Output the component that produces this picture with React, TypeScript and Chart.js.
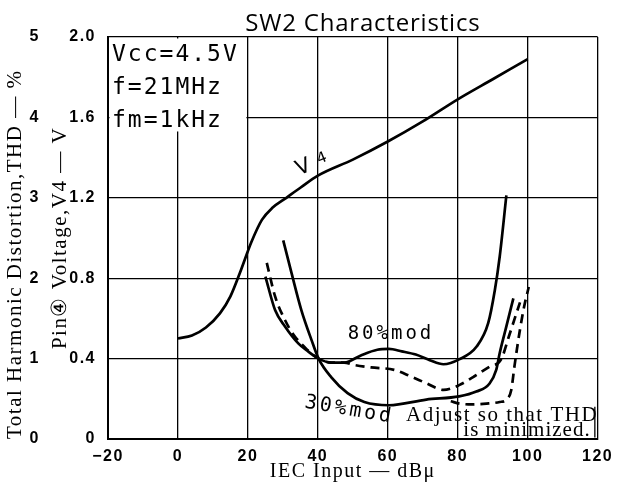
import React, { useEffect, useRef } from "react";
import { Chart, registerables } from "chart.js";

Chart.register(...registerables);

// ---- texts ----
const chartTitle = "SW2 Characteristics";
const xAxisTitle = "IEC Input — dBμ";
const v4AxisTitle = "Pin④ Voltage,V4 — V";
const thdAxisTitle = "Total Harmonic Distortion,THD — %";
const noteLines = ["Vcc=4.5V", "f=21MHz", "fm=1kHz"];
const v4LabelMain = "V";
const v4LabelSub = "4";
const label80 = "80%mod";
const label30 = "30%mod";
const adjustLines = ["Adjust so that THD", "is minimized."];

// ---- axes ----
const xMin = -20;
const xMax = 120;
const xStep = 20;
const v4Min = 0;
const v4Max = 2.0;
const v4Step = 0.4;
const thdMin = 0;
const thdMax = 5;
const thdStep = 1;

// ---- series: Pin4 voltage V4 (V) ----
const v4Input = [0, 4, 8, 12, 15, 18, 21, 24, 27, 31, 35, 40, 50, 60, 70, 80, 90, 100];
const v4Volts = [0.5, 0.515, 0.555, 0.625, 0.71, 0.84, 0.98, 1.09, 1.15, 1.2, 1.25, 1.31, 1.39, 1.48, 1.58, 1.69, 1.79, 1.89];

// ---- series: THD (%) 80% modulation (solid) ----
const mod80Input = [25, 27.8, 30.6, 34.4, 37.2, 40.2, 43.8, 47.6, 52.3, 57, 60.3, 64, 68, 72, 75.9, 80.4, 85.4, 88.7, 90.6, 92, 93.9];
const mod80Thd = [2.02, 1.6, 1.4, 1.19, 1.09, 1.0, 0.95, 0.95, 1.04, 1.11, 1.12, 1.09, 1.05, 0.98, 0.93, 0.99, 1.15, 1.44, 1.85, 2.27, 3.03];

// ---- series: THD (%) 30% modulation (solid) ----
const mod30Input = [30.1, 32.5, 35.3, 38.2, 40.2, 43.8, 48.5, 53.3, 60.3, 71, 80.4, 85.3, 89.1, 91, 92, 93.9, 95.9];
const mod30Thd = [2.47, 2.06, 1.6, 1.23, 1.0, 0.77, 0.57, 0.46, 0.42, 0.49, 0.53, 0.59, 0.69, 0.86, 1.07, 1.4, 1.75];

// ---- series: THD (%) 80% modulation, adjusted (dashed) ----
const mod80AdjInput = [25.4, 27.8, 30.6, 33, 36.5, 40.2, 44, 47.5, 50.4, 55.2, 61.8, 66.5, 71.2, 75.9, 80.4, 84.4, 89.1, 92.4, 94.8, 96.3, 97.8];
const mod80AdjThd = [2.19, 1.77, 1.48, 1.3, 1.13, 1.0, 0.95, 0.95, 0.92, 0.89, 0.86, 0.78, 0.69, 0.61, 0.67, 0.77, 0.9, 0.99, 1.3, 1.5, 1.7];

// ---- series: THD (%) 30% modulation, adjusted (dashed) ----
const mod30AdjInput = [78, 80.6, 84, 88.2, 92, 93.9, 95.3, 96.2, 97.6, 99, 100.3];
const mod30AdjThd = [0.47, 0.44, 0.43, 0.44, 0.46, 0.49, 0.61, 0.9, 1.31, 1.65, 1.89];

const toPoints = (xs: number[], ys: number[]) => xs.map((x, i) => ({ x, y: ys[i] }));

function put(
  ctx: any,
  text: string,
  x: number,
  y: number,
  font: string,
  align: string = "left",
  baseline: string = "alphabetic",
  angle: number = 0,
  spacing: string = "0px"
) {
  ctx.save();
  ctx.translate(x, y);
  if (angle) ctx.rotate(angle);
  ctx.font = font;
  ctx.textAlign = align;
  ctx.textBaseline = baseline;
  ctx.letterSpacing = spacing;
  ctx.fillStyle = "#000";
  ctx.fillText(text, 0, 0);
  ctx.restore();
}

const annotationPlugin = {
  id: "sw2Annotations",
  beforeDraw(chart: any) {
    chart.ctx.letterSpacing = "1.5px";
  },
  beforeDatasetsDraw(chart: any) {
    const { ctx, chartArea, scales } = chart;
    ctx.letterSpacing = "0px";
    const boxRight = scales.x.getPixelForValue(20) - 1.5;
    const boxBottom = scales.y.getPixelForValue(1.53);
    ctx.save();
    ctx.fillStyle = "#fff";
    ctx.fillRect(chartArea.left + 1.5, chartArea.top + 1.5, boxRight - chartArea.left - 1.5, boxBottom - chartArea.top - 1.5);
    ctx.restore();
  },
  afterDatasetsDraw(chart: any) {
    const { ctx, chartArea, scales } = chart;
    const xs = scales.x;
    const yv = scales.y;
    const yt = scales.thd;
    // title
    put(ctx, chartTitle, (chartArea.left + chartArea.right) / 2 + 10, 31, "24px 'Open Sans', sans-serif", "center", "alphabetic", 0, "0.8px");
    // condition notes
    const noteFont = "23px 'DejaVu Sans Mono', monospace";
    noteLines.forEach((t, i) => {
      put(ctx, t, chartArea.left + 4, chartArea.top + 24 + i * 33, noteFont, "left", "alphabetic", 0, "2px");
    });
    // V4 label
    put(ctx, v4LabelMain, xs.getPixelForValue(35.9), yv.getPixelForValue(1.35), "21px 'DejaVu Sans', sans-serif", "center", "middle", -0.38);
    put(ctx, v4LabelSub, xs.getPixelForValue(41.2), yv.getPixelForValue(1.395), "15px 'DejaVu Sans', sans-serif", "center", "middle", -0.38);
    // modulation labels
    put(ctx, label80, xs.getPixelForValue(60.9), yt.getPixelForValue(1.31), "19px 'DejaVu Sans Mono', monospace", "center", "middle", 0, "3px");
    put(ctx, label30, xs.getPixelForValue(49), yt.getPixelForValue(0.36), "20px 'DejaVu Sans Mono', monospace", "center", "middle", 0.17, "3px");
    // adjust note
    const serif = "21px 'Liberation Serif', serif";
    put(ctx, adjustLines[0], xs.getPixelForValue(65.2), yt.getPixelForValue(0.224), serif, "left", "alphabetic", 0, "1.5px");
    put(ctx, adjustLines[1], xs.getPixelForValue(81.6), yt.getPixelForValue(0.037), serif, "left", "alphabetic", 0, "1px");
    // small bracket mark at the right of the note
    ctx.save();
    ctx.strokeStyle = "#000";
    ctx.lineWidth = 1.3;
    ctx.beginPath();
    const bx = xs.getPixelForValue(119.2);
    ctx.moveTo(bx, yt.getPixelForValue(0.4));
    ctx.lineTo(bx, yt.getPixelForValue(0.02));
    ctx.stroke();
    ctx.restore();
  },
};

export default function App() {
  const canvasRef = useRef<HTMLCanvasElement | null>(null);

  useEffect(() => {
    const canvas = canvasRef.current;
    if (!canvas) return;
    const tickFont = { family: "'Liberation Sans', Arial, sans-serif", size: 16, weight: "bold" as const };
    const axisTitleFont = { family: "'Liberation Serif', serif", size: 21 };
    const lineCommon = {
      showLine: true,
      pointRadius: 0,
      borderColor: "#000",
      backgroundColor: "#000",
      borderWidth: 2.7,
      cubicInterpolationMode: "monotone" as const,
      fill: false,
    };
    const chart = new Chart(canvas, {
      type: "scatter",
      data: {
        datasets: [
          { label: "V4", data: toPoints(v4Input, v4Volts), yAxisID: "y", ...lineCommon },
          { label: "80%mod", data: toPoints(mod80Input, mod80Thd), yAxisID: "thd", ...lineCommon },
          { label: "30%mod", data: toPoints(mod30Input, mod30Thd), yAxisID: "thd", ...lineCommon },
          { label: "80%mod adjusted", data: toPoints(mod80AdjInput, mod80AdjThd), yAxisID: "thd", ...lineCommon, borderDash: [9, 6] },
          { label: "30%mod adjusted", data: toPoints(mod30AdjInput, mod30AdjThd), yAxisID: "thd", ...lineCommon, borderDash: [9, 6] },
        ],
      },
      options: {
        animation: false,
        responsive: true,
        maintainAspectRatio: false,
        layout: { padding: { top: 37, right: 16, left: 0, bottom: 0 } },
        plugins: { legend: { display: false }, tooltip: { enabled: false }, title: { display: false } },
        scales: {
          x: {
            type: "linear",
            min: xMin,
            max: xMax,
            ticks: {
              stepSize: xStep,
              color: "#000",
              font: tickFont,
              padding: 8,
              maxRotation: 0,
              callback: (v: any) => (Number(v) < 0 ? "−" + Math.abs(Number(v)) : String(v)),
            },
            grid: { color: "#000", lineWidth: 1.3, drawTicks: false },
            border: { color: "#000", width: 2 },
            title: { display: true, text: xAxisTitle, color: "#000", font: { family: "'Liberation Serif', serif", size: 20 }, padding: { top: 0, bottom: 4 } },
            afterFit: (s: any) => {
              s.height = 49;
            },
          },
          y: {
            type: "linear",
            position: "left",
            weight: 0,
            min: v4Min,
            max: v4Max,
            ticks: {
              stepSize: v4Step,
              color: "#000",
              font: tickFont,
              padding: 12,
              callback: (v: any) => (Number(v) === 0 ? "0" : Number(v).toFixed(1)),
            },
            grid: { color: "#000", lineWidth: 1.3, drawTicks: false },
            border: { color: "#000", width: 2 },
            title: { display: true, text: v4AxisTitle, color: "#000", font: axisTitleFont, padding: { top: 3, bottom: 0 } },
            afterFit: (s: any) => {
              s.width = 63;
            },
          },
          thd: {
            type: "linear",
            position: "left",
            weight: 1,
            min: thdMin,
            max: thdMax,
            ticks: { stepSize: thdStep, color: "#000", font: tickFont, padding: 5 },
            grid: { display: false, drawTicks: false },
            border: { display: false },
            title: { display: true, text: thdAxisTitle, color: "#000", font: axisTitleFont, align: "start", padding: { top: 3, bottom: 0 } },
            afterFit: (s: any) => {
              s.width = 45;
            },
          },
        },
      },
      plugins: [annotationPlugin],
    } as any);
    return () => chart.destroy();
  }, []);

  return (
    <div style={{ position: "fixed", left: 0, top: 0, width: 619, height: 488, background: "#fff" }}>
      <canvas ref={canvasRef} />
    </div>
  );
}
